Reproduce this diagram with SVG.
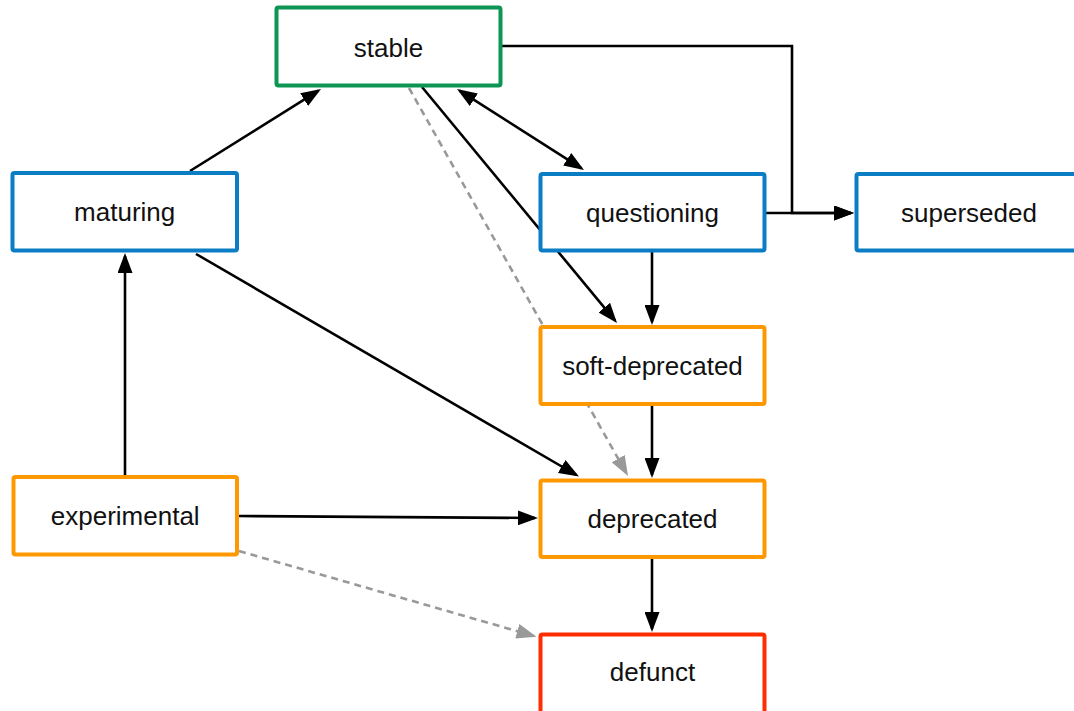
<svg xmlns="http://www.w3.org/2000/svg" width="1074" height="711" viewBox="0 0 1074 711">
<style>
.node rect{fill:#fff;stroke-width:4}
.node text{font-family:"Liberation Sans",Arial,sans-serif;font-size:26px;fill:#111;text-anchor:middle}
.blue rect{stroke:#0a7dc5}
.green rect{stroke:#0c9553}
.orange rect{stroke:#fe9800}
.red rect{stroke:#ff2d00}
.edge{fill:none;stroke:#000;stroke-width:2.6}
.dash{fill:none;stroke:#999;stroke-width:2.6;stroke-dasharray:7 5}
</style>
<defs>
<marker id="ah" markerUnits="userSpaceOnUse" markerWidth="20" markerHeight="15" refX="17" refY="7.5" orient="auto-start-reverse"><path d="M0,0 L20,7.5 L0,15 Z" fill="#000"/></marker>
<marker id="ahg" markerUnits="userSpaceOnUse" markerWidth="20" markerHeight="15" refX="17" refY="7.5" orient="auto"><path d="M0,0 L20,7.5 L0,15 Z" fill="#999"/></marker>
</defs>
<g id="connectors">
<line class="edge" x1="190" y1="171" x2="318.5" y2="90.6" marker-end="url(#ah)"/>
<line class="edge" x1="459.5" y1="90.6" x2="581.5" y2="168.4" marker-start="url(#ah)" marker-end="url(#ah)"/>
<line class="edge" x1="422" y1="87" x2="615.1" y2="320.7" marker-end="url(#ah)"/>
<line class="dash" x1="409" y1="88" x2="626.5" y2="473.4" marker-end="url(#ahg)"/>
<polyline class="edge" points="501,46 792,46 792,213 851,213" marker-end="url(#ah)"/>
<line class="edge" x1="765" y1="213" x2="851" y2="213" marker-end="url(#ah)"/>
<line class="edge" x1="652" y1="252" x2="652" y2="322" marker-end="url(#ah)"/>
<line class="edge" x1="652" y1="405" x2="652" y2="475" marker-end="url(#ah)"/>
<line class="edge" x1="652" y1="559" x2="652" y2="629" marker-end="url(#ah)"/>
<line class="edge" x1="196" y1="254" x2="576.4" y2="475" marker-end="url(#ah)"/>
<line class="edge" x1="125" y1="475" x2="125" y2="256" marker-end="url(#ah)"/>
<line class="edge" x1="239" y1="516" x2="535" y2="518" marker-end="url(#ah)"/>
<line class="dash" x1="239" y1="551" x2="533.6" y2="635.9" marker-end="url(#ahg)"/>
</g>
<g id="stable" class="node green"><rect x="276.5" y="7.5" width="224" height="78" rx="2"/><text x="388.5" y="56.5">stable</text></g>
<g id="maturing" class="node blue"><rect x="12.5" y="173" width="224.5" height="77.5" rx="2"/><text x="124.7" y="221">maturing</text></g>
<g id="questioning" class="node blue"><rect x="540.5" y="174" width="224" height="76.5" rx="2"/><text x="652.5" y="222">questioning</text></g>
<g id="superseded" class="node blue"><rect x="856.5" y="174" width="225" height="76.5" rx="2"/><text x="969" y="222">superseded</text></g>
<g id="soft-deprecated" class="node orange"><rect x="540.5" y="327" width="224" height="77" rx="2"/><text x="652.5" y="375">soft-deprecated</text></g>
<g id="experimental" class="node orange"><rect x="13.5" y="477" width="223.5" height="77.5" rx="2"/><text x="125.2" y="525">experimental</text></g>
<g id="deprecated" class="node orange"><rect x="540.5" y="480.5" width="224" height="76.5" rx="2"/><text x="652.5" y="528">deprecated</text></g>
<g id="defunct" class="node red"><rect x="540.5" y="634.5" width="224" height="80" rx="2"/><text x="652.5" y="681">defunct</text></g>
</svg>
